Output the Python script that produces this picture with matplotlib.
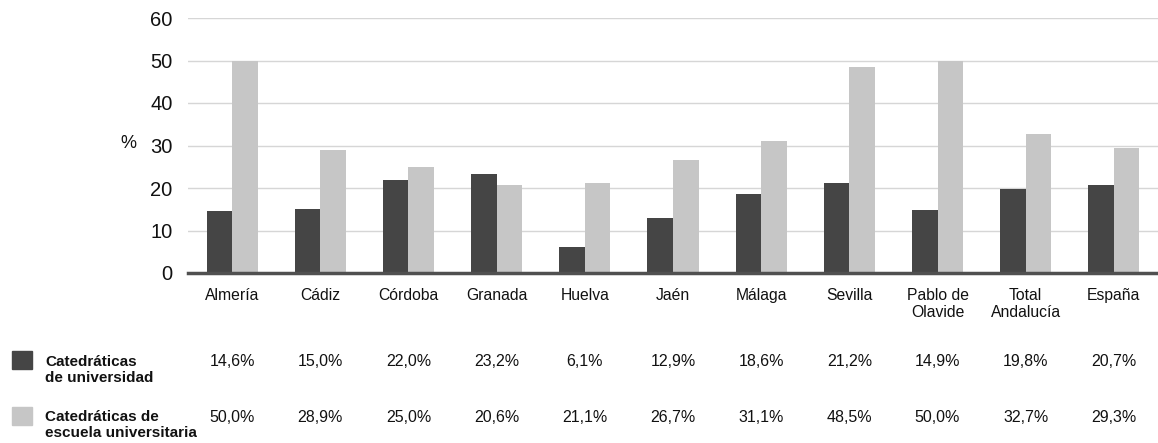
import matplotlib
matplotlib.use('Agg')
import matplotlib.pyplot as plt
import matplotlib.transforms as mtransforms
from matplotlib.patches import Rectangle
import numpy as np

plt.rcParams['font.family'] = ['Liberation Sans', 'DejaVu Sans']

CATEGORIES = ['Almería', 'Cádiz', 'Córdoba', 'Granada', 'Huelva', 'Jaén',
              'Málaga', 'Sevilla', 'Pablo de\nOlavide', 'Total\nAndalucía', 'España']
UNIVERSIDAD = [14.6, 15.0, 22.0, 23.2, 6.1, 12.9, 18.6, 21.2, 14.9, 19.8, 20.7]
ESCUELA = [50.0, 28.9, 25.0, 20.6, 21.1, 26.7, 31.1, 48.5, 50.0, 32.7, 29.3]
SERIES_NAMES = ['Catedráticas\nde universidad', 'Catedráticas de\nescuela universitaria']

DARK = '#454545'
LIGHT = '#c6c6c6'


def fmt(v):
    # spanish decimal comma
    return ('%.1f%%' % v).replace('.', ',')


fig = plt.figure(figsize=(11.58, 4.43), dpi=100)
ax = fig.add_axes([188 / 1158, 1 - 273 / 443, 1 - 188 / 1158, (273 - 18) / 443])

x = np.arange(len(CATEGORIES))
width = 0.29
ax.bar(x - width / 2, UNIVERSIDAD, width, color=DARK, zorder=2)
ax.bar(x + width / 2, ESCUELA, width, color=LIGHT, zorder=2)

ax.set_xlim(-0.5, len(CATEGORIES) - 0.5)
ax.set_ylim(0, 60)
ax.set_yticks(range(0, 61, 10))
ax.yaxis.grid(True, color='#d6d6d6', linewidth=1, zorder=0)
ax.set_axisbelow(True)

for side in ['top', 'right', 'left']:
    ax.spines[side].set_visible(False)
ax.spines['bottom'].set_color('#505050')
ax.spines['bottom'].set_linewidth(2.5)
ax.spines['bottom'].set_zorder(3)

ax.set_xticks(x)
ax.set_xticklabels(CATEGORIES, fontsize=11.3, color='#111111', linespacing=1.2)
ax.tick_params(axis='x', length=0, pad=10.5)
ax.tick_params(axis='y', length=0, pad=11, labelsize=14.5, labelcolor='#111111')

fig.text(128 / 1158, 1 - 143 / 443, '%', fontsize=13, ha='center', va='center', color='#111111')

# data table under the chart
trans = mtransforms.blended_transform_factory(ax.transData, fig.transFigure)
row_y = [1 - 362 / 443, 1 - 417 / 443]
for vals, ry in zip([UNIVERSIDAD, ESCUELA], row_y):
    for xi, v in zip(x, vals):
        ax.text(xi, ry, fmt(v), transform=trans, ha='center', va='center',
                fontsize=11.5, color='#111111', clip_on=False)

sq_y = [1 - 369 / 443, 1 - 425 / 443]
label_top = [1 - 355 / 443, 1 - 410 / 443]
for name, color, sy, ly in zip(SERIES_NAMES, [DARK, LIGHT], sq_y, label_top):
    fig.patches.append(Rectangle((12 / 1158, sy), 20 / 1158, 18 / 443,
                                 transform=fig.transFigure, color=color))
    fig.text(45 / 1158, ly, name, fontsize=11, fontweight='bold', ha='left', va='top',
             color='#111111', linespacing=1.15)

fig.savefig('out.png', dpi=100)
